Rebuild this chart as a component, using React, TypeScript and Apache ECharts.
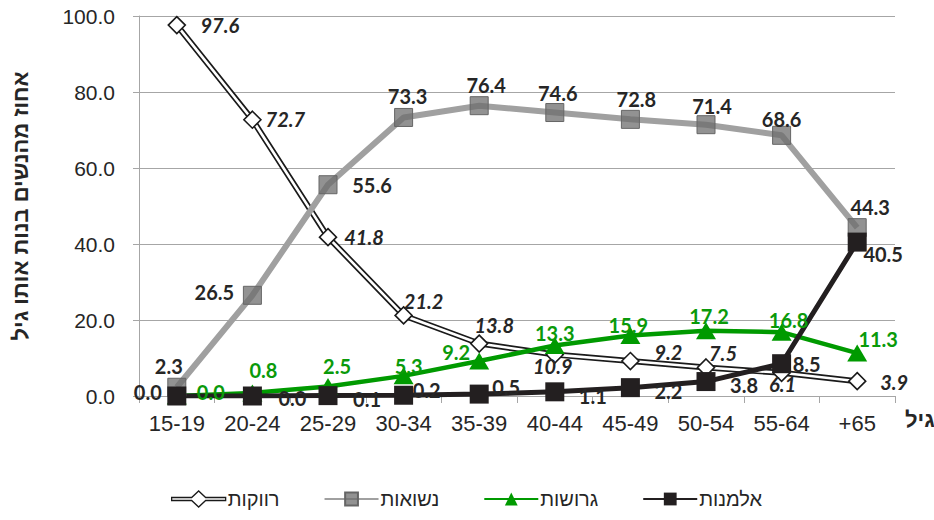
import React, { useEffect, useRef } from "react";
import * as echarts from "echarts";

const categories = ["15-19", "20-24", "25-29", "30-34", "35-39", "40-44", "45-49", "50-54", "55-64", "+65"];
const singleValues = [97.6, 72.7, 41.8, 21.2, 13.8, 10.9, 9.2, 7.5, 6.1, 3.9];
const marriedValues = [2.3, 26.5, 55.6, 73.3, 76.4, 74.6, 72.8, 71.4, 68.6, 44.3];
const divorcedValues = [0.0, 0.8, 2.5, 5.3, 9.2, 13.3, 15.9, 17.2, 16.8, 11.3];
const widowedValues = [0.0, 0.0, 0.1, 0.2, 0.5, 1.1, 2.2, 3.8, 8.5, 40.5];

const seriesNames = ["רווקות", "נשואות", "גרושות", "אלמנות"];
const yAxisTitle = "אחוז מהנשים בנות אותו גיל";
const xAxisTitle = "גיל";
const yMin = 0;
const yMax = 100;
const yStep = 20;

// label placement (offset of label centre from its point, px)
const singleOffsets = [[43, 0], [33, -1], [36, 0], [20, -14], [15, -19], [-2, 11], [38, -9], [17, -15], [1, 11], [37, 1]];
const marriedOffsets = [[-8, -21], [-38, -3], [44, 0], [4, -21], [7, -21], [3, -20], [6, -20], [6, -19], [0, -16], [13, -21]];
const divorcedOffsets = [[34, -4], [11, -23], [9, -21], [5, -10], [-23, -9], [0, -12], [-2, -11], [3, -15], [7, -12], [21, -14]];
const widowedOffsets = [[-29, -4], [40, 2], [39, 3], [23, -5], [27, -7], [38, 4], [38, 3], [38, 3], [25, 0], [26, 12]];

const HEB = "'Liberation Sans', Arial, sans-serif";
const NUM = "Lato, 'Open Sans', sans-serif";

function withLabels(values: number[], offsets: number[][]) {
  return values.map((v, i) => ({ value: v, label: { offset: offsets[i] } }));
}

export default function App() {
  const ref = useRef<HTMLDivElement>(null);
  useEffect(() => {
    if (!ref.current) return;
    const chart = echarts.init(ref.current, null, { renderer: "svg" });
    const labelBase = {
      show: true,
      position: "inside",
      fontFamily: NUM,
      fontWeight: "bold",
      fontSize: 20,
      color: "#262626",
      formatter: (p: any) => Number(p.value).toFixed(1),
    };
    chart.setOption({
      animation: false,
      backgroundColor: "#ffffff",
      grid: { left: 139, right: 39, top: 16, bottom: 124, containLabel: false, outerBoundsMode: "none" },
      legend: {
        left: 166,
        top: 484,
        itemWidth: 54,
        itemHeight: 16,
        itemGap: 44,
        textStyle: { fontFamily: HEB, fontSize: 20, color: "#262626", padding: [0, 0, 0, -3] },
        data: [
          {
            name: seriesNames[0],
            icon: "path://M0,6.5 H20 L27,0 L34,6.5 H54 V9.5 H34 L27,16 L20,9.5 H0 Z",
            itemStyle: { color: "#ffffff", borderColor: "#1a1a1a", borderWidth: 1.3 },
          },
          { name: seriesNames[1] },
          { name: seriesNames[2] },
          { name: seriesNames[3] },
        ],
      },
      xAxis: {
        type: "category",
        data: categories,
        boundaryGap: true,
        name: xAxisTitle,
        nameLocation: "end",
        nameGap: 10,
        nameTextStyle: {
          fontFamily: HEB,
          fontWeight: "bold",
          fontSize: 22,
          color: "#262626",
          align: "left",
          verticalAlign: "top",
          padding: [12, 0, 0, 0],
        },
        axisLine: { lineStyle: { color: "#a6a6a6", width: 1 } },
        axisTick: { show: true, alignWithLabel: false, length: 7, lineStyle: { color: "#a6a6a6" } },
        axisLabel: { fontFamily: HEB, fontSize: 22, color: "#262626", margin: 16 },
      },
      yAxis: {
        type: "value",
        min: yMin,
        max: yMax,
        interval: yStep,
        name: yAxisTitle,
        nameLocation: "middle",
        nameRotate: 90,
        nameGap: 108,
        nameTextStyle: { fontFamily: HEB, fontWeight: "bold", fontSize: 22, color: "#262626" },
        axisLine: { show: true, lineStyle: { color: "#a6a6a6", width: 1 } },
        axisTick: { show: true, length: 6, lineStyle: { color: "#a6a6a6" } },
        splitLine: { lineStyle: { color: "#a6a6a6", width: 1 } },
        axisLabel: {
          fontFamily: HEB,
          fontSize: 21,
          color: "#262626",
          margin: 24,
          formatter: (v: number) => v.toFixed(1),
        },
      },
      series: [
        {
          name: seriesNames[0],
          type: "line",
          data: singleValues,
          showSymbol: false,
          symbol: "none",
          lineStyle: { color: "#1a1a1a", width: 6 },
          itemStyle: { color: "#ffffff", borderColor: "#1a1a1a" },
          silent: true,
        },
        {
          name: seriesNames[0],
          type: "line",
          data: singleValues,
          showSymbol: false,
          symbol: "none",
          lineStyle: { color: "#ffffff", width: 2.6 },
          itemStyle: { color: "#ffffff", borderColor: "#1a1a1a" },
          silent: true,
        },
        {
          name: seriesNames[0],
          type: "line",
          data: withLabels(singleValues, singleOffsets),
          symbol: "diamond",
          symbolSize: 17,
          showAllSymbol: true,
          lineStyle: { width: 0, opacity: 0 },
          itemStyle: { color: "#ffffff", borderColor: "#1a1a1a", borderWidth: 1.6 },
          label: { ...labelBase, fontStyle: "italic" },
        },
        {
          name: seriesNames[1],
          type: "line",
          data: withLabels(marriedValues, marriedOffsets),
          symbol: "rect",
          symbolSize: 18,
          showAllSymbol: true,
          lineStyle: { color: "#a0a0a0", width: 6 },
          itemStyle: { color: "rgba(110,110,110,0.75)", borderColor: "#666666", borderWidth: 1 },
          label: { ...labelBase },
        },
        {
          name: seriesNames[2],
          type: "line",
          data: withLabels(divorcedValues, divorcedOffsets),
          symbol: "triangle",
          symbolSize: [20, 17],
          showAllSymbol: true,
          lineStyle: { color: "#009a00", width: 4.5 },
          itemStyle: { color: "#009a00" },
          label: { ...labelBase, color: "#0a9a0a" },
        },
        {
          name: seriesNames[3],
          type: "line",
          data: withLabels(widowedValues, widowedOffsets),
          symbol: "rect",
          symbolSize: 19,
          showAllSymbol: true,
          lineStyle: { color: "#231f20", width: 5 },
          itemStyle: { color: "#231f20" },
          label: { ...labelBase },
        },
      ],
    });
    return () => chart.dispose();
  }, []);
  return (
    <div
      ref={ref}
      style={{ position: "fixed", left: 0, top: 0, width: 934, height: 520, background: "#fff" }}
    />
  );
}
